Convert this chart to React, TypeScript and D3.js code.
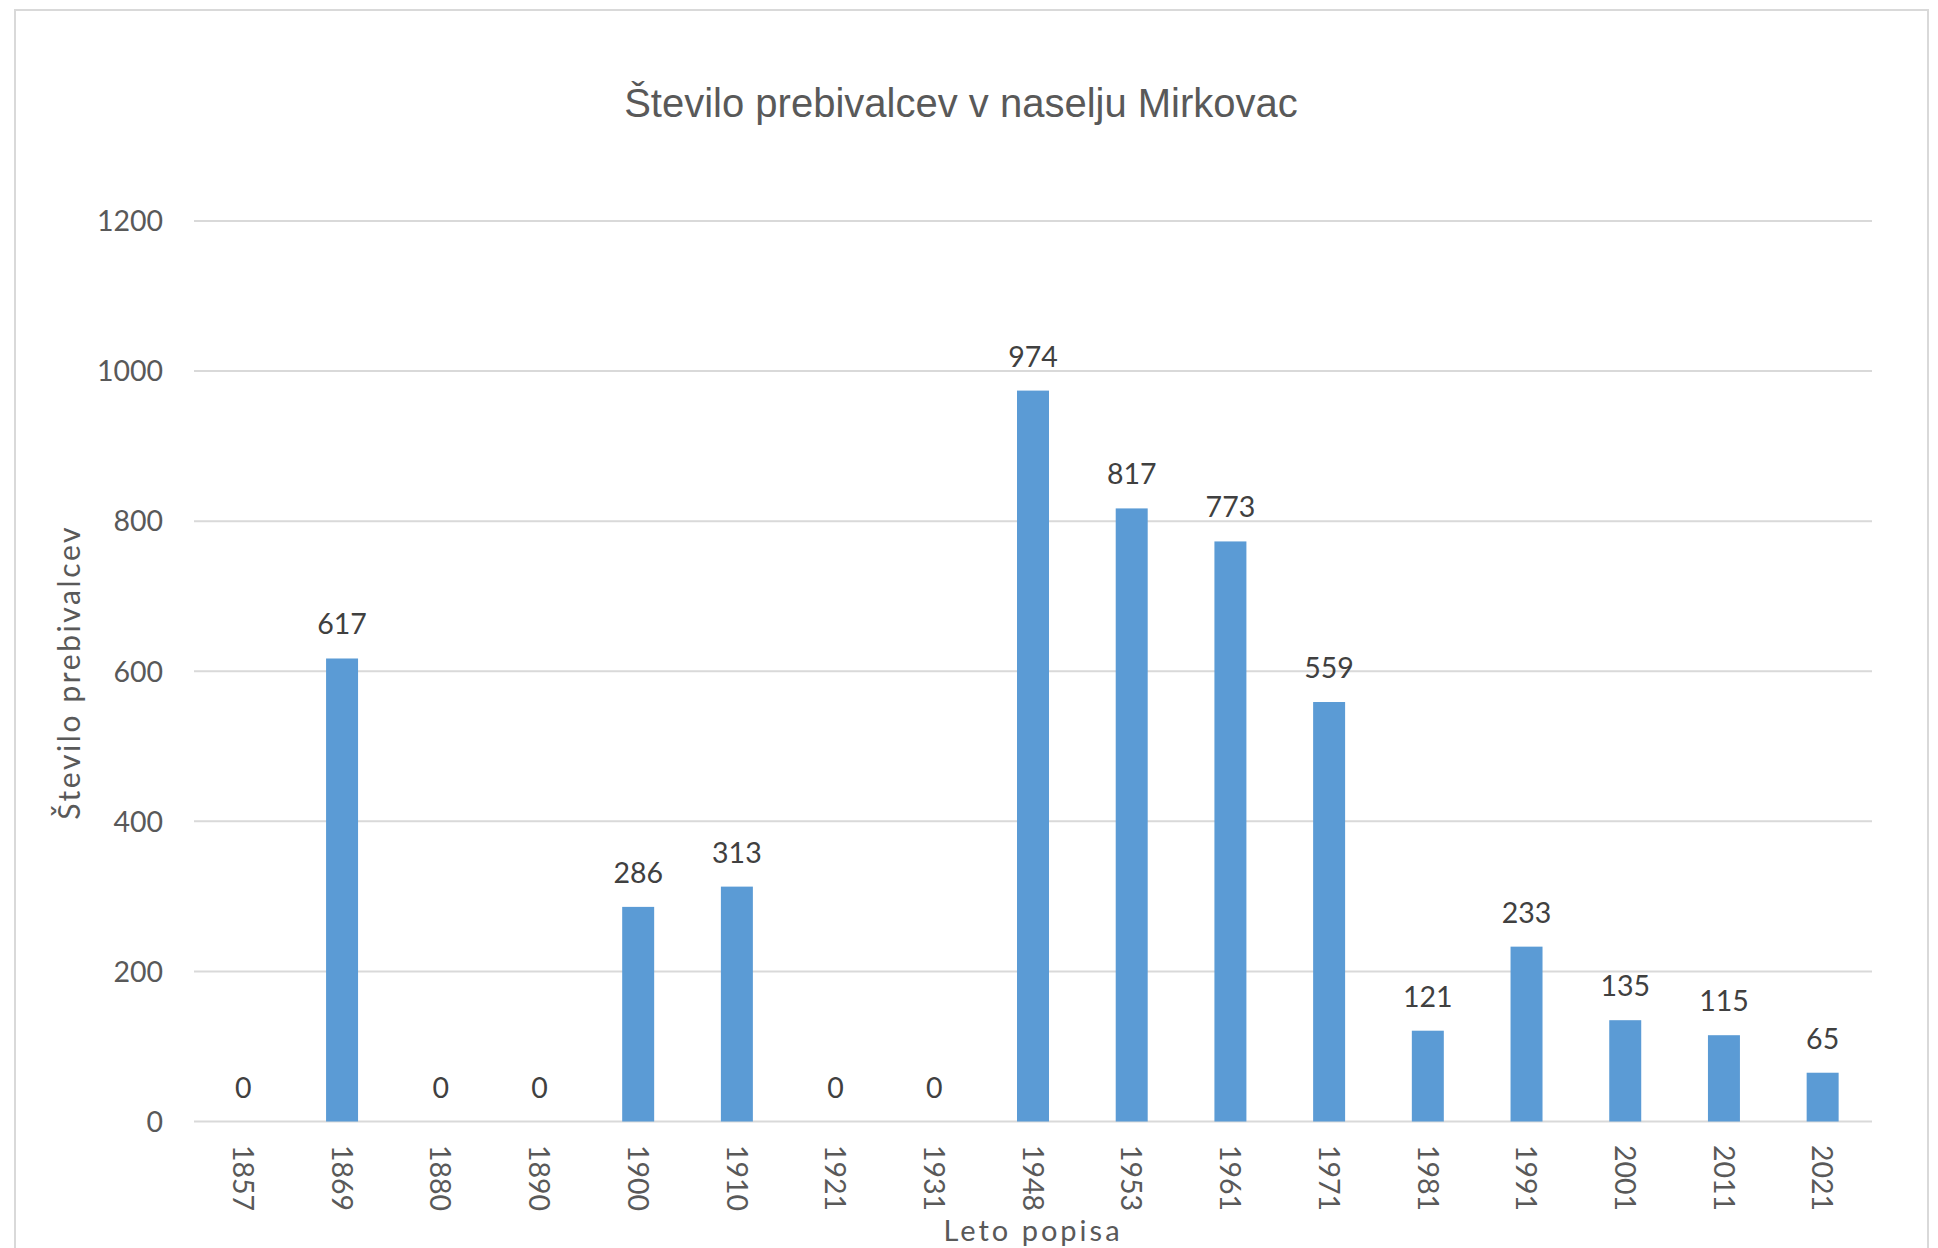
import React from "react";
import * as d3 from "d3";

const years = ["1857", "1869", "1880", "1890", "1900", "1910", "1921", "1931", "1948", "1953", "1961", "1971", "1981", "1991", "2001", "2011", "2021"];
const population = [0, 617, 0, 0, 286, 313, 0, 0, 974, 817, 773, 559, 121, 233, 135, 115, 65];
const yTicks = [0, 200, 400, 600, 800, 1000, 1200];

const W = 1938;
const H = 1248;
const plotLeft = 194;
const plotRight = 1872;
const plotTop = 221;
const plotBottom = 1121.5;

export default function App() {
  const x = d3
    .scaleBand<string>()
    .domain(years)
    .range([plotLeft, plotRight])
    .paddingInner(0.676)
    .paddingOuter(0.338);
  const y = d3.scaleLinear().domain([0, 1200]).range([plotBottom, plotTop]);
  const tickFont = "Lato, 'Open Sans', sans-serif";

  return (
    <svg
      width={W}
      height={H}
      viewBox={`0 0 ${W} ${H}`}
      style={{ position: "absolute", left: 0, top: 0, background: "#fff" }}
    >
      <rect x={0} y={0} width={W} height={H} fill="#fff" />
      <rect x={15} y={10} width={1913} height={1250} fill="#fff" stroke="#D9D9D9" strokeWidth={2} />
      <text
        x={961}
        y={117}
        textAnchor="middle"
        fontFamily="'Liberation Sans', Arial, sans-serif"
        fontSize={40}
        fill="#595959"
      >
        Število prebivalcev v naselju Mirkovac
      </text>
      {yTicks.map((t) => (
        <g key={t}>
          <line x1={plotLeft} x2={plotRight} y1={y(t)} y2={y(t)} stroke="#D9D9D9" strokeWidth={2} />
          <text
            x={163}
            y={y(t)}
            dy="0.36em"
            textAnchor="end"
            fontFamily={tickFont}
            fontSize={28.5}
            fill="#595959"
          >
            {t}
          </text>
        </g>
      ))}
      {years.map((yr, i) => {
        const v = population[i];
        const bx = x(yr)!;
        const cx = bx + x.bandwidth() / 2;
        return (
          <g key={yr}>
            {v > 0 && (
              <rect x={bx} y={y(v)} width={x.bandwidth()} height={plotBottom - y(v)} fill="#5B9BD5" />
            )}
            <text
              x={cx}
              y={y(v) - 24}
              textAnchor="middle"
              fontFamily={tickFont}
              fontSize={28.5}
              fill="#404040"
            >
              {v}
            </text>
            <text
              transform={`translate(${cx},${1145}) rotate(90)`}
              dy="0.36em"
              textAnchor="start"
              fontFamily={tickFont}
              fontSize={28.5}
              fill="#595959"
            >
              {yr}
            </text>
          </g>
        );
      })}
      <text
        transform={`translate(80,${(plotTop + plotBottom) / 2 + 1}) rotate(-90)`}
        textAnchor="middle"
        fontFamily={tickFont}
        fontSize={30}
        letterSpacing={2.6}
        fill="#595959"
      >
        Število prebivalcev
      </text>
      <text
        x={(plotLeft + plotRight) / 2}
        y={1241}
        textAnchor="middle"
        fontFamily={tickFont}
        fontSize={29}
        letterSpacing={3}
        fill="#595959"
      >
        Leto popisa
      </text>
    </svg>
  );
}
